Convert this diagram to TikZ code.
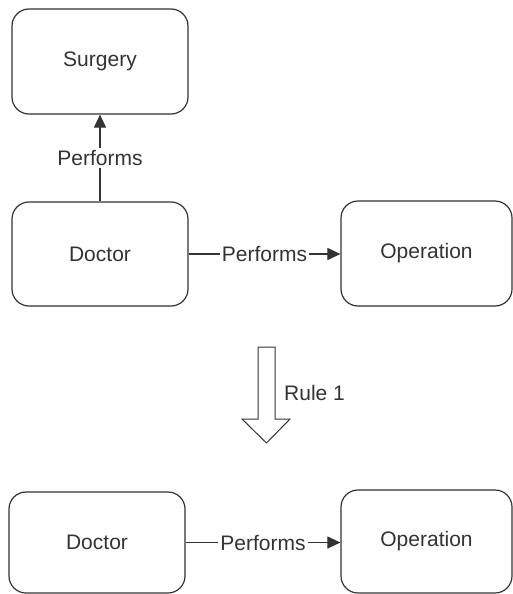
\documentclass[tikz,border=0pt]{standalone}
\usepackage{fontspec}
\setmainfont{Liberation Sans}
\usetikzlibrary{arrows.meta}
\definecolor{ink}{HTML}{333333}
\tikzset{
  box/.style={draw=ink, line width=1.2pt, rounded corners=17pt, inner sep=0pt, text=ink},
  conn/.style={draw=ink, line width=1.1pt, -{Triangle[length=13pt,width=12pt]}},
  lbl/.style={fill=white, text=ink, inner sep=2pt},
}
\begin{document}
\begin{tikzpicture}[x=1pt,y=-1pt,font=\fontsize{21}{25}\selectfont]
\useasboundingbox (0,0) rectangle (513,594);
\node[box, minimum width=176pt, minimum height=105pt] (surg) at (100,61.5) {Surgery};
\node[box, minimum width=176pt, minimum height=104pt] (doc1) at (100,254) {Doctor};
\node[box, minimum width=171pt, minimum height=105pt] (op1) at (426.5,253.5) {Operation};
\node[box, minimum width=176pt, minimum height=101pt] (doc2) at (97,542.5) {Doctor};
\node[box, minimum width=171pt, minimum height=103pt] (op2) at (426.5,541.5) {Operation};
\draw[conn] (doc1.north) -- node[lbl] {Performs} (surg.south);
\draw[conn] (doc1.east) -- node[lbl] {Performs} (op1.west |- doc1.east);
\draw[conn] (doc2.east) -- node[lbl] {Performs} (op2.west |- doc2.east);
\draw[draw=ink, line width=1pt, fill=white, line join=miter]
  (258,347) -- (275,347) -- (275,419) -- (290,419) -- (266.5,443) -- (242,419) -- (258,419) -- cycle;
\node[text=ink, anchor=west, inner sep=0pt] (rule) at (284,393) {Rule 1};
\end{tikzpicture}
\end{document}
